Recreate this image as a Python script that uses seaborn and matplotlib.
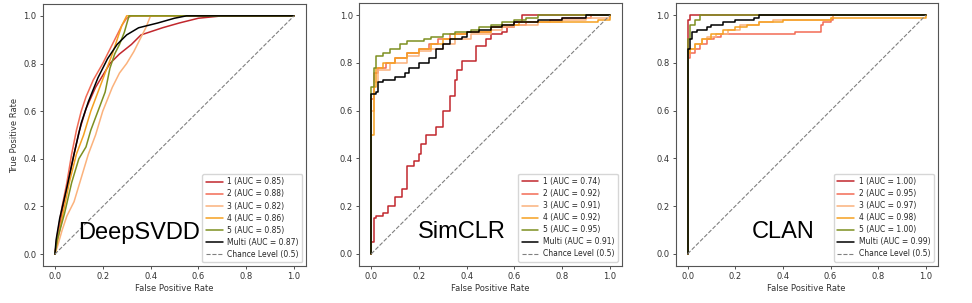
import matplotlib
matplotlib.use('Agg')
import matplotlib.pyplot as plt
import pandas as pd
import seaborn as sns

# Nomes dos modelos e AUC - model names and AUC values
models = ['DeepSVDD', 'SimCLR', 'CLAN']
classes = ['1', '2', '3', '4', '5', 'Multi']
auc = {
    'DeepSVDD': [0.85, 0.88, 0.82, 0.86, 0.85, 0.87],
    'SimCLR': [0.74, 0.92, 0.91, 0.92, 0.95, 0.91],
    'CLAN': [1.00, 0.95, 0.97, 0.98, 1.00, 0.99],
}
colors = ['#c1272d', '#f26b55', '#fbb27c', '#f5a021', '#7d8f20', 'black']

# Curvas ROC - ROC curves (fpr, tpr)
deepsvdd_fpr = [
    [0, 0.01, 0.03, 0.05, 0.08, 0.10, 0.13, 0.17, 0.20, 0.23, 0.27, 0.32, 0.36, 0.45, 0.52, 0.60, 0.70, 1.0],
    [0, 0.01, 0.03, 0.05, 0.07, 0.09, 0.11, 0.13, 0.16, 0.20, 0.23, 0.26, 0.28, 0.30, 0.32, 1.0],
    [0, 0.01, 0.03, 0.05, 0.08, 0.11, 0.14, 0.17, 0.20, 0.24, 0.27, 0.30, 0.33, 0.36, 0.38, 0.40, 1.0],
    [0, 0.01, 0.03, 0.06, 0.09, 0.12, 0.15, 0.18, 0.21, 0.24, 0.26, 0.28, 0.30, 1.0],
    [0, 0.01, 0.04, 0.07, 0.10, 0.13, 0.15, 0.18, 0.21, 0.23, 0.25, 0.27, 0.29, 0.31, 1.0],
    [0, 0.005, 0.02, 0.05, 0.08, 0.11, 0.14, 0.18, 0.22, 0.26, 0.30, 0.35, 0.43, 0.50, 0.55, 1.0],
]
deepsvdd_tpr = [
    [0, 0.07, 0.18, 0.28, 0.42, 0.51, 0.61, 0.70, 0.75, 0.80, 0.84, 0.88, 0.92, 0.95, 0.97, 0.99, 1.0, 1.0],
    [0, 0.08, 0.20, 0.30, 0.42, 0.52, 0.60, 0.66, 0.73, 0.80, 0.86, 0.92, 0.96, 0.99, 1.0, 1.0],
    [0, 0.03, 0.10, 0.16, 0.22, 0.32, 0.42, 0.50, 0.60, 0.70, 0.76, 0.80, 0.85, 0.91, 0.95, 1.0, 1.0],
    [0, 0.05, 0.15, 0.30, 0.42, 0.50, 0.60, 0.68, 0.76, 0.84, 0.90, 0.96, 1.0, 1.0],
    [0, 0.06, 0.17, 0.30, 0.40, 0.45, 0.52, 0.60, 0.68, 0.78, 0.84, 0.88, 0.93, 1.0, 1.0],
    [0, 0.06, 0.15, 0.28, 0.42, 0.55, 0.64, 0.74, 0.82, 0.88, 0.92, 0.95, 0.97, 0.99, 1.0, 1.0],
]

simclr_fpr = [
    [0, 0, 0.01, 0.02, 0.05, 0.07, 0.10, 0.13, 0.15, 0.15, 0.18, 0.20, 0.21, 0.23, 0.27, 0.30, 0.33, 0.35, 0.36, 0.38, 0.42, 0.44, 0.48, 0.50, 0.55, 0.57, 0.60, 0.63, 1.0],
    [0, 0, 0.01, 0.03, 0.06, 0.10, 0.15, 0.20, 0.24, 0.28, 0.33, 0.40, 0.50, 0.58, 0.65, 0.75, 0.80, 0.92, 1.0],
    [0, 0, 0.01, 0.03, 0.08, 0.15, 0.20, 0.25, 0.30, 0.35, 0.42, 0.50, 0.55, 0.60, 0.70, 0.80, 0.90, 1.0],
    [0, 0, 0.01, 0.02, 0.05, 0.10, 0.15, 0.20, 0.25, 0.30, 0.35, 0.40, 0.50, 0.55, 0.62, 0.80, 0.95, 1.0],
    [0, 0, 0.01, 0.02, 0.05, 0.08, 0.12, 0.15, 0.22, 0.25, 0.30, 0.35, 0.42, 0.45, 0.50, 0.55, 0.60, 0.65, 0.70, 1.0],
    [0, 0, 0.02, 0.03, 0.05, 0.10, 0.14, 0.16, 0.20, 0.24, 0.27, 0.30, 0.33, 0.38, 0.40, 0.45, 0.50, 0.55, 0.60, 0.70, 0.80, 0.90, 1.0],
]
simclr_tpr = [
    [0, 0.05, 0.15, 0.16, 0.17, 0.20, 0.24, 0.27, 0.30, 0.37, 0.39, 0.42, 0.46, 0.50, 0.53, 0.60, 0.66, 0.73, 0.77, 0.81, 0.81, 0.87, 0.90, 0.92, 0.93, 0.95, 0.97, 1.0, 1.0],
    [0, 0.65, 0.76, 0.78, 0.80, 0.82, 0.84, 0.86, 0.88, 0.90, 0.92, 0.93, 0.95, 0.96, 0.97, 0.98, 0.99, 1.0, 1.0],
    [0, 0.60, 0.72, 0.77, 0.80, 0.83, 0.85, 0.86, 0.88, 0.90, 0.92, 0.94, 0.95, 0.96, 0.97, 0.98, 0.99, 1.0],
    [0, 0.50, 0.70, 0.78, 0.80, 0.82, 0.84, 0.86, 0.88, 0.90, 0.92, 0.93, 0.95, 0.96, 0.97, 0.97, 0.98, 1.0],
    [0, 0.70, 0.78, 0.83, 0.84, 0.86, 0.88, 0.89, 0.90, 0.91, 0.92, 0.93, 0.94, 0.95, 0.96, 0.97, 0.98, 0.99, 1.0, 1.0],
    [0, 0.67, 0.68, 0.72, 0.73, 0.74, 0.76, 0.78, 0.80, 0.82, 0.86, 0.88, 0.90, 0.91, 0.93, 0.94, 0.95, 0.96, 0.97, 0.98, 0.99, 1.0, 1.0],
]

clan_fpr = [
    [0, 0, 0.01, 1.0],
    [0, 0, 0.01, 0.03, 0.05, 0.08, 0.11, 0.14, 0.45, 0.56, 0.57, 0.60, 0.61, 1.0],
    [0, 0, 0.01, 0.03, 0.06, 0.08, 0.12, 0.17, 0.22, 0.30, 0.36, 0.60, 0.61, 1.0],
    [0, 0, 0.01, 0.03, 0.06, 0.10, 0.15, 0.20, 0.25, 0.30, 0.40, 0.60, 0.91, 1.0],
    [0, 0, 0.01, 0.03, 0.05, 1.0],
    [0, 0, 0.01, 0.02, 0.04, 0.08, 0.10, 0.15, 0.20, 0.28, 0.30, 1.0],
]
clan_tpr = [
    [0, 0.98, 1.0, 1.0],
    [0, 0.82, 0.84, 0.86, 0.88, 0.90, 0.91, 0.92, 0.93, 0.96, 0.97, 0.98, 1.0, 1.0],
    [0, 0.84, 0.86, 0.88, 0.90, 0.91, 0.92, 0.94, 0.96, 0.97, 0.98, 0.99, 1.0, 1.0],
    [0, 0.84, 0.86, 0.88, 0.90, 0.92, 0.94, 0.95, 0.96, 0.97, 0.98, 0.99, 0.99, 1.0],
    [0, 0.90, 0.96, 0.98, 1.0, 1.0],
    [0, 0.86, 0.90, 0.93, 0.94, 0.95, 0.96, 0.97, 0.98, 0.99, 1.0, 1.0],
]

curves = {
    'DeepSVDD': (deepsvdd_fpr, deepsvdd_tpr, 'default'),
    'SimCLR': (simclr_fpr, simclr_tpr, 'steps-post'),
    'CLAN': (clan_fpr, clan_tpr, 'steps-post'),
}
chance_x = [0, 1]
chance_y = [0, 1]

sns.set_style('ticks')
plt.rcParams['font.family'] = ['DejaVu Sans']

fig = plt.figure(figsize=(9.72, 3.03), dpi=100)
positions = [
    [0.0442, 0.122, 0.2706, 0.865],
    [0.3697, 0.123, 0.2700, 0.866],
    [0.6952, 0.123, 0.2695, 0.866],
]

for i, model in enumerate(models):
    ax = fig.add_axes(positions[i])
    fpr_list, tpr_list, ds = curves[model]
    rows = []
    for k, c in enumerate(classes):
        label = f'{c} (AUC = {auc[model][k]:.2f})'
        for x, y in zip(fpr_list[k], tpr_list[k]):
            rows.append({'fpr': x, 'tpr': y, 'label': label})
    df = pd.DataFrame(rows)
    labels = df['label'].unique().tolist()
    sns.lineplot(data=df, x='fpr', y='tpr', hue='label', hue_order=labels,
                 palette=dict(zip(labels, colors)), estimator=None, sort=False,
                 lw=1.1, drawstyle=ds, ax=ax)
    ax.plot(chance_x, chance_y, ls='--', color='gray', lw=0.8, label='Chance Level (0.5)')

    ax.set_xlim(-0.05, 1.05)
    ax.set_ylim(-0.05, 1.05)
    ax.set_xticks([0, 0.2, 0.4, 0.6, 0.8, 1.0])
    ax.set_yticks([0, 0.2, 0.4, 0.6, 0.8, 1.0])
    ax.tick_params(labelsize=6, length=2.5, width=0.6, colors='#333333', pad=2)
    for s in ax.spines.values():
        s.set_color('#555555')
        s.set_linewidth(0.8)
    ax.set_xlabel('False Positive Rate', fontsize=6, color='#333333', labelpad=2)
    if i == 0:
        ax.set_ylabel('True Positive Rate', fontsize=6, color='#333333', labelpad=3)
    else:
        ax.set_ylabel('')
    ax.legend(loc='lower right', fontsize=5.5, frameon=True, handlelength=2.2,
              borderpad=0.45, labelspacing=0.4, handletextpad=0.6)

    # Nome do modelo - model name text
    xt = [0.35, 0.38, 0.40][i]
    ax.text(xt, 0.09, model, fontsize=17, family=['Liberation Sans', 'DejaVu Sans'],
            ha='center', va='center', color='black', zorder=10)

fig.savefig('out.png', dpi=100)
